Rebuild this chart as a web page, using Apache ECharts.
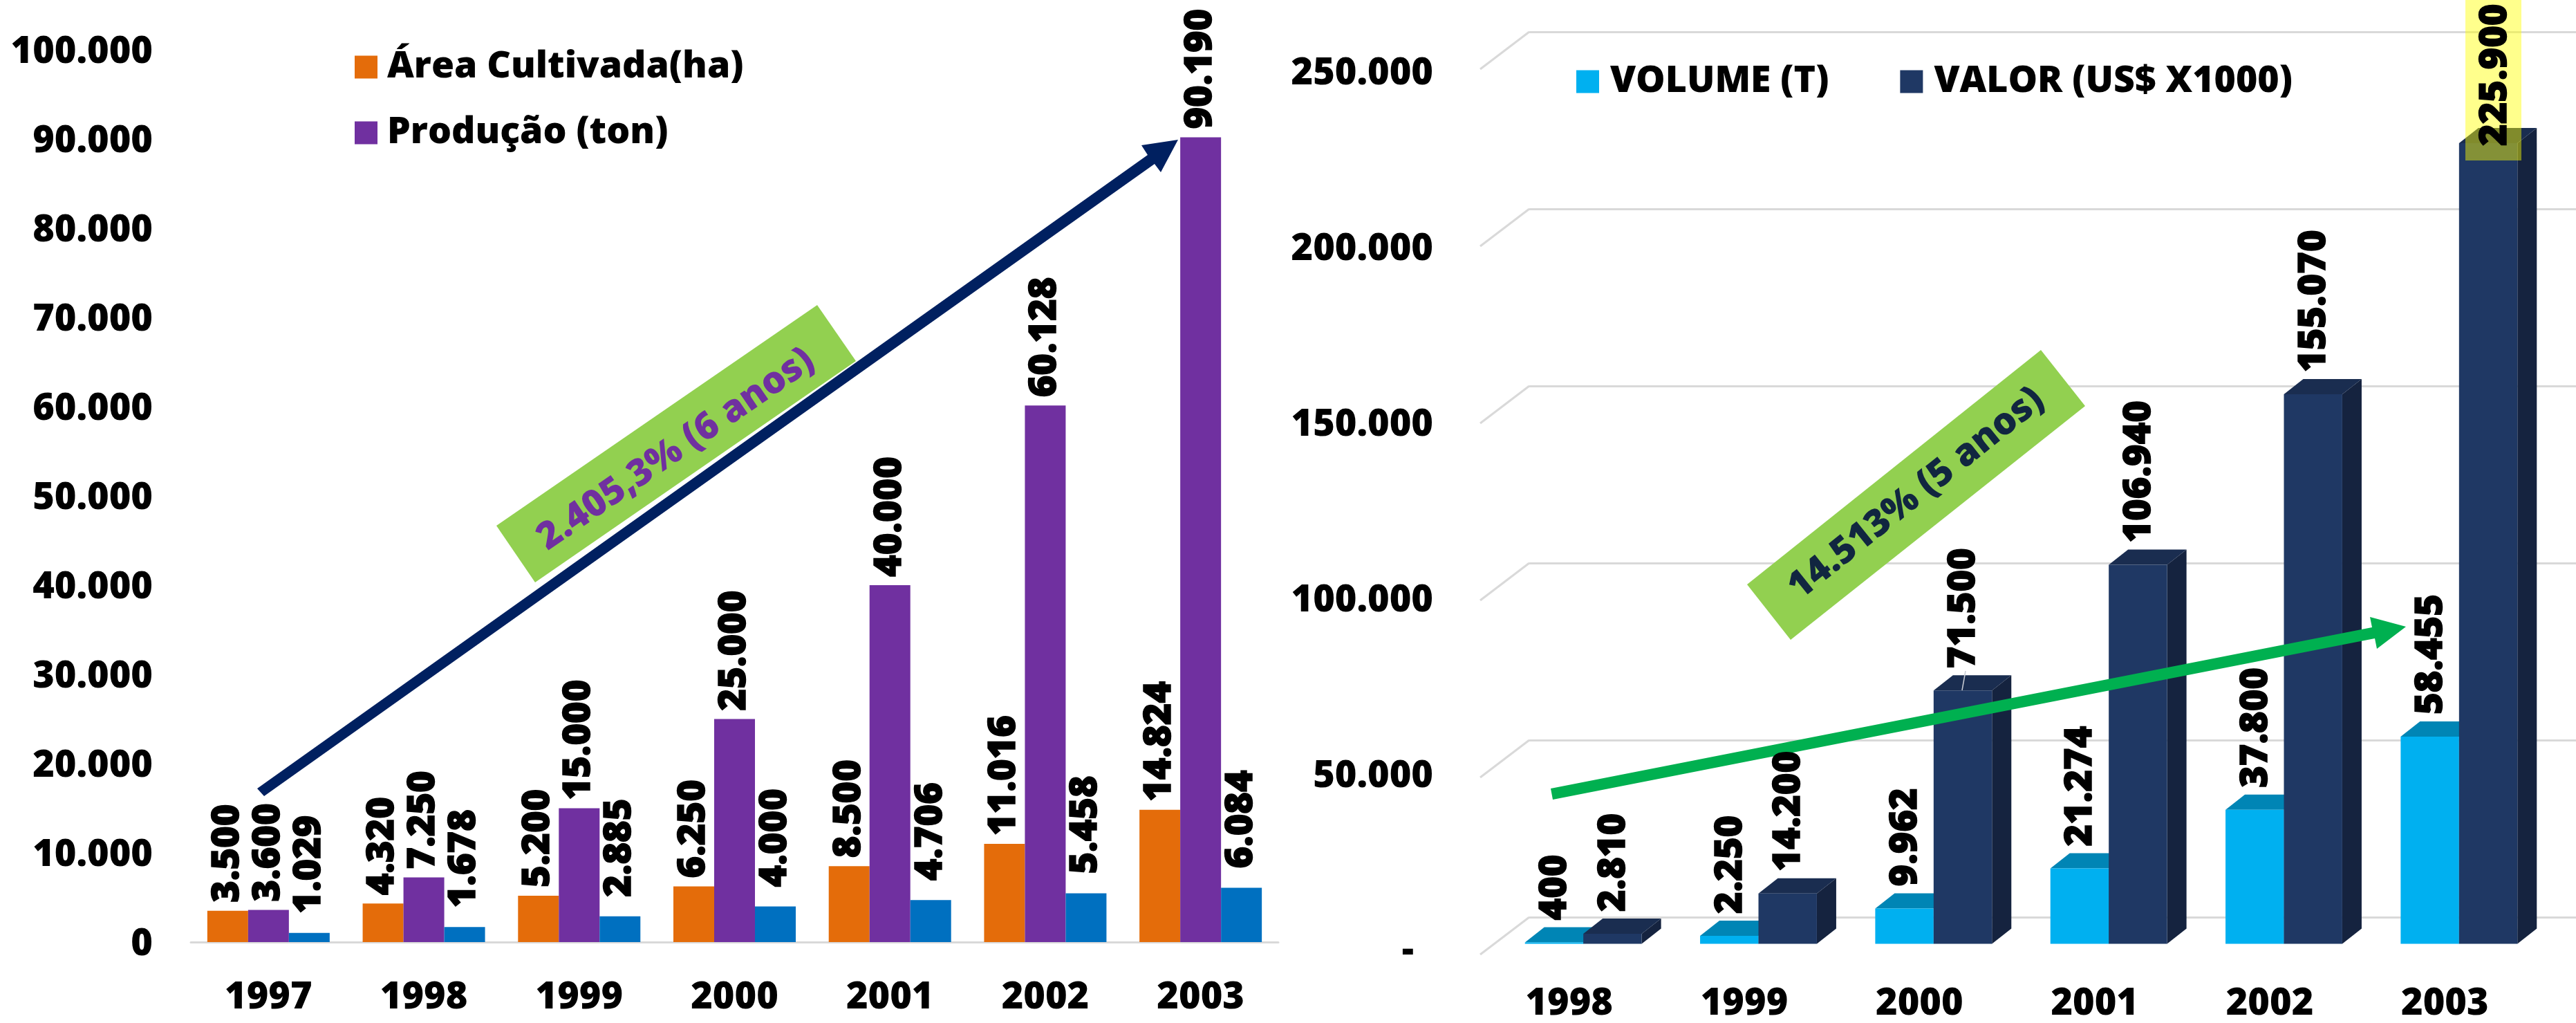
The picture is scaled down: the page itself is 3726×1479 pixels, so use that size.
<!DOCTYPE html>
<html style="height: 100%">

<head>
    <meta charset="utf-8">
    <script src="https://cdn.jsdelivr.net/npm/echarts@6/dist/echarts.min.js"></script>
</head>

<body style="margin: 0; background-color: white">
    <div id="container" style="width: 3726px; height: 1479px"></div>
    <script type="text/javascript">
        // left chart
        var anosArea = ['1997', '1998', '1999', '2000', '2001', '2002', '2003'];
        var areaCultivada = [3500, 4320, 5200, 6250, 8500, 11016, 14824];
        var producao = [3600, 7250, 15000, 25000, 40000, 60128, 90190];
        var terceiraSerie = [1029, 1678, 2885, 4000, 4706, 5458, 6084];

        // right chart
        var anosMercado = ['1998', '1999', '2000', '2001', '2002', '2003'];
        var volume = [400, 2250, 9962, 21274, 37800, 58455];
        var valor = [2810, 14200, 71500, 106940, 155070, 225900];
        var ticksMercado = [0, 50000, 100000, 150000, 200000, 250000];

        var FONT = '"Open Sans"';
        var DEPTH_X = 28, DEPTH_Y = 22;
        var GRID_COLOR = '#d9d9d9';

        function fmt(v) {
            return String(v).replace(/\B(?=(\d{3})+$)/g, '.');
        }

        function barLabel(distance) {
            return {
                show: true,
                position: 'top',
                distance: distance,
                rotate: 90,
                align: 'left',
                verticalAlign: 'middle',
                color: '#000',
                textBorderColor: '#000',
                textBorderWidth: 1.5,
                fontFamily: FONT,
                fontWeight: 800,
                fontSize: 54,
                formatter: function (p) { return fmt(p.value); }
            };
        }

        function leftBar(name, values, color, distance) {
            return {
                name: name,
                type: 'bar',
                xAxisIndex: 0,
                yAxisIndex: 0,
                barWidth: 59,
                barGap: 0,
                itemStyle: { color: color },
                label: barLabel(distance),
                data: values
            };
        }

        // side 0 = left half of the band, side 1 = right half
        function bar3d(name, values, side, front, top, right) {
            return {
                name: name,
                type: 'custom',
                xAxisIndex: 3,
                yAxisIndex: 3,
                z: 2,
                renderItem: function (params, api) {
                    var p = api.coord([api.value(0), api.value(1)]);
                    var y0 = api.coord([api.value(0), 0])[1];
                    var w = api.size([1, 0])[0] / 3;
                    var x1 = p[0] - w + side * w;
                    var x2 = x1 + w;
                    var y1 = p[1];
                    return {
                        type: 'group',
                        children: [{
                            type: 'polygon',
                            shape: { points: [[x2, y1], [x2 + DEPTH_X, y1 - DEPTH_Y], [x2 + DEPTH_X, y0 - DEPTH_Y], [x2, y0]] },
                            style: { fill: right }
                        }, {
                            type: 'polygon',
                            shape: { points: [[x1, y1], [x1 + DEPTH_X, y1 - DEPTH_Y], [x2 + DEPTH_X, y1 - DEPTH_Y], [x2, y1]] },
                            style: { fill: top }
                        }, {
                            type: 'rect',
                            shape: { x: x1, y: y1, width: w, height: y0 - y1 },
                            style: { fill: front }
                        }]
                    };
                },
                data: values.map(function (v, i) { return [i, v]; })
            };
        }

        // the last VALOR label sits lower, on the bar top, in the yellow highlight
        function bar3dLabels(values, side, destacarUltimo) {
            return {
                type: 'custom',
                xAxisIndex: 3,
                yAxisIndex: 3,
                z: 10,
                silent: true,
                renderItem: function (params, api) {
                    var p = api.coord([api.value(0), api.value(1)]);
                    var w = api.size([1, 0])[0] / 3;
                    var destaque = destacarUltimo && params.dataIndex === values.length - 1;
                    return {
                        type: 'text',
                        x: p[0] - w / 2 + side * w + (destaque ? 11 : 2),
                        y: p[1] + (destaque ? 4 : -DEPTH_Y - 10),
                        rotation: Math.PI / 2,
                        z2: 100,
                        style: {
                            text: fmt(api.value(1)),
                            align: 'left',
                            verticalAlign: 'middle',
                            fill: '#000',
                            stroke: '#000',
                            lineWidth: 1.5,
                            font: '800 54px ' + FONT
                        }
                    };
                },
                data: values.map(function (v, i) { return [i, v]; })
            };
        }

        function arrow(pts, color) {
            return {
                type: 'polygon',
                z: 6,
                shape: { points: pts },
                style: { fill: color }
            };
        }

        function banner(pts, text, cx, cy, angle, color) {
            return [{
                type: 'polygon',
                z: 1,
                shape: { points: pts },
                style: { fill: '#92d050' }
            }, {
                type: 'text',
                z: 7,
                x: cx,
                y: cy,
                rotation: angle * Math.PI / 180,
                style: {
                    text: text,
                    align: 'center',
                    verticalAlign: 'middle',
                    fill: color,
                    font: '800 54px ' + FONT
                }
            }];
        }

        var graphics = [].concat(
            banner([[1182, 441], [1238, 522], [774, 842], [718, 760]], '2.405,3% (6 anos)', 978, 650, 34.5, '#7030a0'),
            banner([[2952, 506], [3016, 587], [2590, 925], [2527, 845]], '14.513% (5 anos)', 2772, 714, 38.6, '#112640'),
            [
                arrow([[372, 1140], [1660, 224], [1651, 210], [1704, 202], [1679, 249], [1670, 237], [382, 1151]], '#002060'),
                arrow([[2243, 1140], [3431, 907], [3428, 892], [3480, 906], [3438, 938], [3435, 923], [2246, 1156]], '#00b050'),
                // yellow highlight behind the 2003 value
                { type: 'rect', z: 5, shape: { x: 3566, y: 0, width: 81, height: 232 }, style: { fill: 'rgba(255,255,0,0.45)' } },
                { type: 'line', z: 5, shape: { x1: 2843, y1: 970, x2: 2838, y2: 998 }, style: { stroke: '#c8ccd4', lineWidth: 1.5 } }
            ]
        );

        var axisText = { color: '#000', fontFamily: FONT, fontWeight: 800, fontSize: 54 };

        var option = {
            animation: false,
            backgroundColor: '#fff',
            legend: [{
                left: 513,
                top: 70,
                padding: 0,
                orient: 'vertical',
                itemWidth: 33,
                itemHeight: 33,
                itemGap: 41,
                selectedMode: false,
                icon: 'rect',
                textStyle: { color: '#000', fontFamily: FONT, fontWeight: 800, fontSize: 53.5, padding: [0, 0, 0, 9] },
                data: [
                    { name: 'Área Cultivada(ha)', itemStyle: { color: '#e46c0a' } },
                    { name: 'Produção (ton)', itemStyle: { color: '#7030a0' } }
                ]
            }, {
                left: 2280,
                top: 91,
                padding: 0,
                itemWidth: 33,
                itemHeight: 33,
                itemGap: 103,
                selectedMode: false,
                icon: 'rect',
                textStyle: { color: '#000', fontFamily: FONT, fontWeight: 800, fontSize: 53.5, padding: [0, 0, 0, 11] },
                data: [
                    { name: 'VOLUME (T)', itemStyle: { color: '#00b0f0' } },
                    { name: 'VALOR (US$ X1000)', itemStyle: { color: '#1f3864' } }
                ]
            }],
            grid: [
                { left: 276, top: 72, width: 1573, height: 1290 },          // area / producao
                { left: 2212, top: 46, width: 1514, height: 1280 },         // back wall
                { left: 2143, top: 107, width: 1520, height: 1281 },        // right chart axis labels
                { left: 2163.5, top: 83.5, width: 1520, height: 1281 },     // 3d bars
                { left: 276, top: 76, width: 1573, height: 1290 }           // left chart axis labels
            ],
            xAxis: [
                {
                    gridIndex: 0, type: 'category', data: anosArea,
                    axisTick: { show: false },
                    axisLine: { lineStyle: { color: GRID_COLOR, width: 3 } },
                    axisLabel: Object.assign({ margin: 54 }, axisText)
                },
                { gridIndex: 1, type: 'value', min: 0, max: 1, show: false },
                {
                    gridIndex: 2, type: 'category', data: anosMercado,
                    axisTick: { show: false },
                    axisLine: { show: false },
                    axisLabel: Object.assign({ margin: 49 }, axisText)
                },
                { gridIndex: 3, type: 'category', data: anosMercado, show: false },
                { gridIndex: 4, type: 'category', data: anosArea, show: false }
            ],
            yAxis: [
                { gridIndex: 0, type: 'value', min: 0, max: 100000, interval: 10000, show: false },
                {
                    gridIndex: 1, type: 'value', min: 0, max: 250000, interval: 50000,
                    axisLine: { show: false }, axisTick: { show: false }, axisLabel: { show: false },
                    splitLine: { lineStyle: { color: GRID_COLOR, width: 3 } }
                },
                {
                    gridIndex: 2, type: 'value', min: 0, max: 250000, interval: 50000,
                    axisLine: { show: false }, axisTick: { show: false }, splitLine: { show: false },
                    axisLabel: Object.assign({
                        margin: 70,
                        formatter: function (v) { return v === 0 ? '-\u00a0\u00a0' : fmt(v); }
                    }, axisText)
                },
                { gridIndex: 3, type: 'value', min: 0, max: 250000, interval: 50000, show: false },
                {
                    gridIndex: 4, type: 'value', min: 0, max: 100000, interval: 10000,
                    axisLine: { show: false }, axisTick: { show: false }, splitLine: { show: false },
                    axisLabel: Object.assign({ margin: 55, formatter: fmt }, axisText)
                }
            ],
            series: [
                leftBar('Área Cultivada(ha)', areaCultivada, '#e46c0a', 12),
                leftBar('Produção (ton)', producao, '#7030a0', 12),
                leftBar('Série 3', terceiraSerie, '#0070c0', 28),
                {
                    // slanted floor edge of each gridline
                    type: 'custom',
                    xAxisIndex: 1,
                    yAxisIndex: 1,
                    z: 0,
                    silent: true,
                    clip: false,
                    renderItem: function (params, api) {
                        var p = api.coord([0, api.value(0)]);
                        return {
                            type: 'line',
                            shape: { x1: p[0], y1: p[1], x2: p[0] - 71, y2: p[1] + 54 },
                            style: { stroke: GRID_COLOR, lineWidth: 3 }
                        };
                    },
                    data: ticksMercado.map(function (v) { return [v]; })
                },
                bar3d('VOLUME (T)', volume, 0, '#00b0f0', '#0085b5', '#0085b5'),
                bar3d('VALOR (US$ X1000)', valor, 1, '#1f3864', '#1a2d50', '#15233f'),
                bar3dLabels(volume, 0, false),
                bar3dLabels(valor, 1, true)
            ],
            graphic: graphics
        };

        var dom = document.getElementById('container');
        var myChart = echarts.init(dom);
        myChart.setOption(option);
    </script>
</body>

</html>
